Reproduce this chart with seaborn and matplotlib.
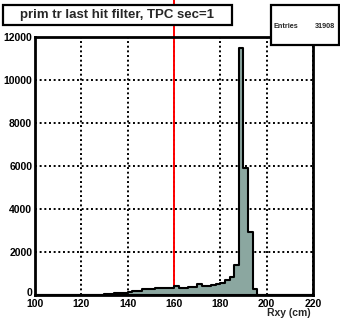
import numpy as np
import pandas as pd
import matplotlib
matplotlib.use("Agg")
import matplotlib.pyplot as plt
import matplotlib.transforms as mtransforms
import seaborn as sns
from matplotlib.patches import Rectangle
from matplotlib.ticker import MultipleLocator

# histogram of Rxy, 2 cm bins from 100 to 220
bin_edges = list(range(100, 222, 2))
counts = [0, 0, 0, 0, 0, 0, 0, 0, 0, 0,
          0, 5, 10, 15, 20, 40, 40, 80, 80, 100,
          150, 170, 200, 260, 270, 290, 310, 320, 330, 340,
          400, 330, 340, 350, 360, 520, 430, 440, 460, 490,
          580, 680, 850, 1400, 11500, 5900, 2950, 270, 0, 0,
          0, 0, 0, 0, 0, 0, 0, 0, 0, 0]
cut_value = 160
title_text = "prim tr last hit filter, TPC sec=1"
entries = 31908
xlabel = "Rxy (cm)"
xticks = [100, 120, 140, 160, 180, 200, 220]
yticks = [0, 2000, 4000, 6000, 8000, 10000, 12000]

sns.set_style("white")
plt.rcParams['font.family'] = ['Liberation Sans', 'DejaVu Sans']
plt.rcParams['font.weight'] = 'bold'

fig = plt.figure(figsize=(3.4, 3.26), dpi=100)
ax = fig.add_axes([35 / 340, 31 / 326, 278 / 340, 258 / 326])

df = pd.DataFrame({"rxy": [e + 1 for e in bin_edges[:-1]], "n": counts})
# red cut line, drawn under the histogram and running up out of the frame
ax.axvline(cut_value, ymin=0, ymax=1.2, color="red", lw=1.4, clip_on=False, zorder=1)
sns.histplot(data=df, x="rxy", weights="n", bins=bin_edges, element="step", fill=True,
             color="#8ba7a0", edgecolor="black", linewidth=1.5, alpha=1, ax=ax, zorder=2)

ax.set_xlim(100, 220)
ax.set_ylim(0, 12000)
ax.set_xticks(xticks)
ax.set_yticks(yticks)
ax.xaxis.set_minor_locator(MultipleLocator(4))
ax.yaxis.set_minor_locator(MultipleLocator(500))
ax.tick_params(which="both", direction="in", top=False, right=False, width=1.2,
               labelsize=7.5, colors="black")
ax.tick_params(which="major", length=6)
ax.tick_params(which="minor", length=3.5)
ax.tick_params(axis="x", pad=3)
ax.tick_params(axis="y", pad=2)
for lab in ax.get_xticklabels() + ax.get_yticklabels():
    lab.set_fontweight("bold")
# lift the "0" label a little, as ROOT does
zero_lab = ax.get_yticklabels()[0]
zero_lab.set_transform(zero_lab.get_transform() +
                       mtransforms.ScaledTranslation(0, 3 / 100, fig.dpi_scale_trans))
ax.grid(True, which="major", color="black", linestyle=(0, (1, 1.4)), linewidth=1.4)
ax.set_axisbelow(True)
for sp in ax.spines.values():
    sp.set_linewidth(2)
    sp.set_color("black")
ax.set_ylabel("")
ax.set_xlabel("")
fig.text(311 / 340, 1 - 313 / 326, xlabel, ha="right", va="center",
         fontsize=7.5, fontweight="bold")

# title box
fig.patches.append(Rectangle((3 / 340, 1 - 25 / 326), 229 / 340, 20 / 326,
                             transform=fig.transFigure, facecolor="white",
                             edgecolor="black", linewidth=1.6, zorder=5))
fig.text(117.5 / 340, 1 - 15 / 326, title_text, ha="center", va="center",
         fontsize=9.5, fontweight="bold", zorder=6)

# stats box
fig.patches.append(Rectangle((271 / 340, 1 - 45 / 326), 68 / 340, 40 / 326,
                             transform=fig.transFigure, facecolor="white",
                             edgecolor="black", linewidth=1.6, zorder=5))
fig.text(274 / 340, 1 - 26 / 326, "Entries", ha="left", va="center",
         fontsize=5.2, fontweight="bold", zorder=6)
fig.text(335 / 340, 1 - 26 / 326, str(entries), ha="right", va="center",
         fontsize=5.2, fontweight="bold", zorder=6)

fig.savefig("out.png", dpi=100, facecolor="white")
